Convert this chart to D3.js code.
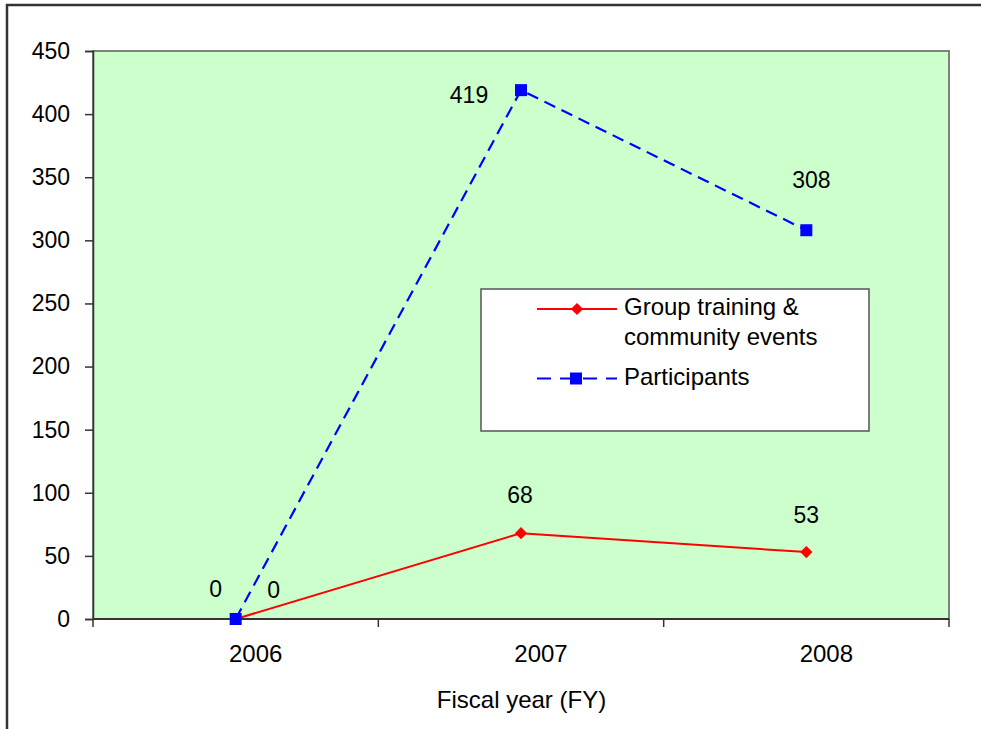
<!DOCTYPE html>
<html>
<head>
<meta charset="utf-8">
<script src="https://cdn.jsdelivr.net/npm/d3@7"></script>
<style>
html,body{margin:0;padding:0;background:#fff;}
svg{display:block;font-family:"Liberation Sans",Arial,sans-serif;}
</style>
</head>
<body>
<svg id="chart" width="981" height="729"></svg>
<script>
const categories = ["2006", "2007", "2008"];
const groupEvents = [0, 68, 53];
const participants = [0, 419, 308];
const yTicks = [0, 50, 100, 150, 200, 250, 300, 350, 400, 450];
const seriesNames = ["Group training & community events", "Participants"];
const xTitle = "Fiscal year (FY)";

const svg = d3.select("#chart");
const L = 93, T = 51, R = 949, B = 619;
const FONT = "Liberation Sans, Arial, sans-serif";

// outer frame
svg.append("rect").attr("x", 7).attr("y", 5).attr("width", 1000).attr("height", 800)
  .attr("fill", "#fff").attr("stroke", "#333").attr("stroke-width", 2.5);

const x = d3.scaleBand().domain(categories).range([L, R]);
const y = d3.scaleLinear().domain([0, 450]).range([B, T]);
const cx = c => x(c) + x.bandwidth() / 2;

// plot area
svg.append("rect").attr("x", L).attr("y", T).attr("width", R - L).attr("height", B - T)
  .attr("fill", "#CCFFCC").attr("stroke", "#808080").attr("stroke-width", 2);

// y axis
const yAxis = d3.axisLeft(y).tickValues(yTicks).tickSize(8).tickPadding(15);
const gy = svg.append("g").attr("transform", `translate(${L},0)`).call(yAxis);
gy.attr("font-size", 23).attr("font-family", FONT);
gy.select(".domain").attr("stroke", "#333").attr("stroke-width", 1.5);
gy.selectAll(".tick line").attr("stroke", "#333").attr("stroke-width", 1.5);
gy.selectAll(".tick text").attr("font-size", 23).attr("fill", "#000");

// x axis
const gx = svg.append("g").attr("transform", `translate(0,${B})`);
gx.append("line").attr("x1", L).attr("x2", R).attr("y1", 0).attr("y2", 0)
  .attr("stroke", "#333").attr("stroke-width", 2);
const sep = [L].concat(categories.map(c => x(c) + x.bandwidth()));
gx.selectAll("line.sep").data(sep).enter().append("line").attr("class", "sep")
  .attr("x1", d => d).attr("x2", d => d).attr("y1", 0).attr("y2", 8)
  .attr("stroke", "#333").attr("stroke-width", 1.5);
gx.selectAll("text.cat").data(categories).enter().append("text").attr("class", "cat")
  .attr("x", d => cx(d) + 20).attr("y", 43).attr("text-anchor", "middle")
  .attr("font-size", 24).attr("fill", "#000").text(d => d);

svg.append("text").attr("x", 521.5).attr("y", 708).attr("text-anchor", "middle")
  .attr("font-size", 24).attr("fill", "#000").text(xTitle);

// lines
const line = d3.line().x((d, i) => cx(categories[i])).y(d => y(d));
svg.append("path").datum(participants).attr("d", line).attr("fill", "none")
  .attr("stroke", "#0000FF").attr("stroke-width", 2.2).attr("stroke-dasharray", "12,7");
svg.append("path").datum(groupEvents).attr("d", line).attr("fill", "none")
  .attr("stroke", "#FF0000").attr("stroke-width", 2);

svg.selectAll("path.gm").data(groupEvents).enter().append("path").attr("class", "gm")
  .attr("d", d3.symbol().type(d3.symbolSquare).size(75))
  .attr("transform", (d, i) => `translate(${cx(categories[i])},${y(d)}) rotate(45)`)
  .attr("fill", "#FF0000");
svg.selectAll("rect.pm").data(participants).enter().append("rect").attr("class", "pm")
  .attr("x", (d, i) => cx(categories[i]) - 6).attr("y", d => y(d) - 6)
  .attr("width", 12).attr("height", 12).attr("fill", "#0000FF");

// data labels
const pOff = [[-20, -22], [-52, 13], [5, -42]];
const gOff = [[38, -21], [-1, -30.5], [0, -29.5]];
svg.selectAll("text.pl").data(participants).enter().append("text").attr("class", "pl")
  .attr("x", (d, i) => cx(categories[i]) + pOff[i][0]).attr("y", (d, i) => y(d) + pOff[i][1])
  .attr("text-anchor", "middle").attr("font-size", 23).attr("fill", "#000").text(d => d);
svg.selectAll("text.gl").data(groupEvents).enter().append("text").attr("class", "gl")
  .attr("x", (d, i) => cx(categories[i]) + gOff[i][0]).attr("y", (d, i) => y(d) + gOff[i][1])
  .attr("text-anchor", "middle").attr("font-size", 23).attr("fill", "#000").text(d => d);

// legend
const lg = svg.append("g").attr("transform", "translate(481,289)");
lg.append("rect").attr("x", 0).attr("y", 0).attr("width", 388).attr("height", 142)
  .attr("fill", "#fff").attr("stroke", "#555").attr("stroke-width", 1.5);
lg.append("line").attr("x1", 56).attr("x2", 136).attr("y1", 20).attr("y2", 20)
  .attr("stroke", "#FF0000").attr("stroke-width", 2);
lg.append("path").attr("d", d3.symbol().type(d3.symbolSquare).size(75))
  .attr("transform", "translate(96,20) rotate(45)").attr("fill", "#FF0000");
const t1 = lg.append("text").attr("x", 143).attr("y", 26).attr("font-size", 24).attr("fill", "#000");
t1.append("tspan").attr("x", 143).text("Group training &");
t1.append("tspan").attr("x", 143).attr("dy", 30).text("community events");
lg.append("line").attr("x1", 56).attr("x2", 136).attr("y1", 89.5).attr("y2", 89.5)
  .attr("stroke", "#0000FF").attr("stroke-width", 2).attr("stroke-dasharray", "14,9");
lg.append("rect").attr("x", 89).attr("y", 83.5).attr("width", 12).attr("height", 12).attr("fill", "#0000FF");
lg.append("text").attr("x", 143).attr("y", 96).attr("font-size", 24).attr("fill", "#000").text(seriesNames[1]);
</script>
</body>
</html>
